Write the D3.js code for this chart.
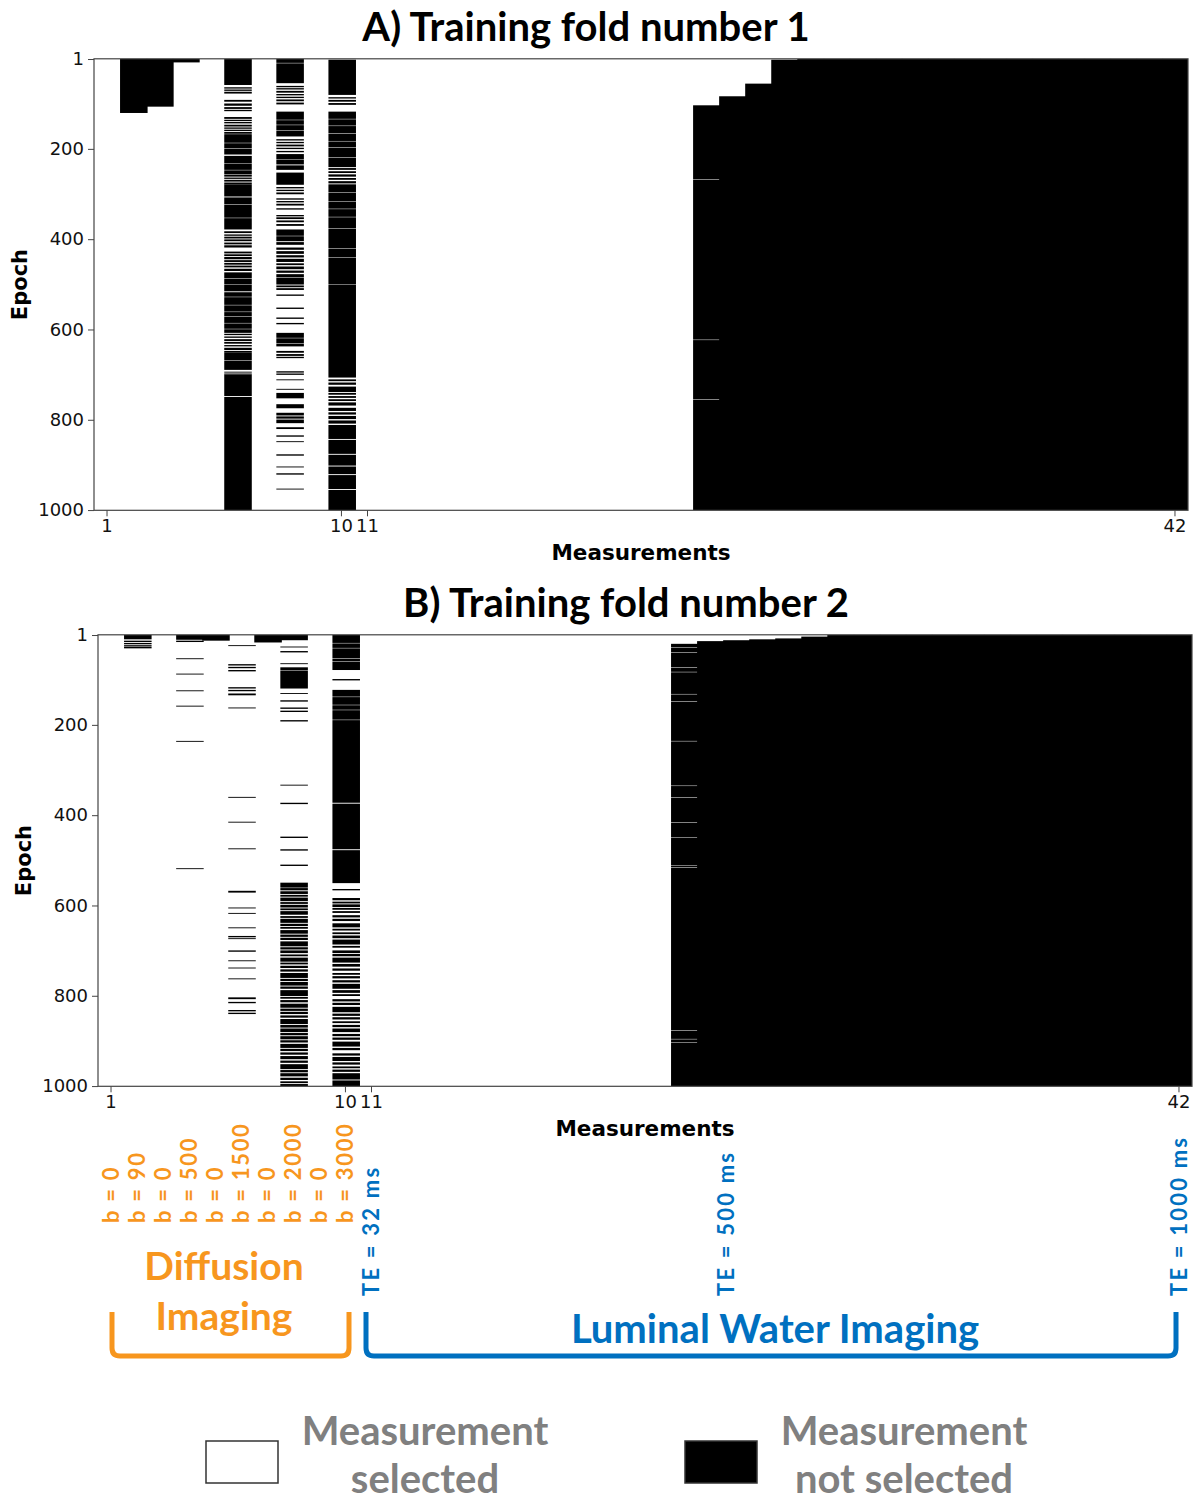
<!DOCTYPE html>
<html>
<head>
<meta charset="utf-8">
<script src="https://cdn.jsdelivr.net/npm/d3@7"></script>
<style>
body { margin: 0; background: #fff; }
</style>
</head>
<body>
<script>
// epochs at which a measurement is NOT selected (black), per measurement column 1..42
// each entry: list of [firstEpoch, lastEpoch] blocks
const foldA = [
  [],
  [[1, 120]],
  [[1, 106]],
  [[1, 8]],
  [],
  [[1,58],[64,66],[69,71],[74,77],[92,95],[100,104],[108,111],[114,116],[130,133],[136,138],[141,143],[147,150],[153,155],[158,160],[163,166],[168,186],[188,198],[200,212],[216,232],[234,246],[248,256],[258,261],[264,266],[269,272],[275,278],[279,305],[308,322],[324,352],[354,378],[383,386],[390,392],[395,398],[401,404],[408,411],[414,418],[428,431],[434,437],[440,444],[447,450],[453,456],[459,462],[466,470],[474,486],[488,500],[502,515],[518,527],[529,545],[547,560],[562,570],[572,585],[587,598],[600,607],[610,612],[616,618],[622,625],[628,631],[635,637],[641,645],[648,651],[652,668],[670,689],[694,695],[698,699],[700,747],[750,1000]],
  [],
  [[1,9],[11,54],[61,63],[66,68],[72,75],[79,81],[85,87],[91,94],[98,101],[118,135],[137,146],[148,158],[160,172],[179,181],[185,187],[191,194],[198,200],[205,207],[212,222],[224,234],[237,246],[253,279],[285,287],[291,293],[297,300],[310,312],[316,318],[322,325],[332,334],[347,349],[352,355],[359,362],[367,370],[379,392],[394,404],[407,412],[419,423],[427,432],[436,440],[444,450],[454,457],[461,466],[470,474],[478,484],[486,500],[503,506],[509,512],[523,525],[552,554],[574,576],[586,588],[608,618],[620,630],[632,637],[648,651],[655,658],[661,663],[693,695],[698,700],[711,712],[732,733],[741,752],[766,774],[785,790],[793,797],[800,807],[817,820],[835,837],[848,849],[877,879],[904,905],[919,921],[953,954]],
  [],
  [[3,80],[86,88],[92,95],[99,102],[118,133],[135,148],[150,165],[167,182],[184,196],[198,218],[220,240],[243,246],[250,253],[257,261],[265,268],[272,276],[279,296],[298,316],[318,332],[334,350],[352,375],[377,420],[422,440],[442,500],[502,706],[711,714],[718,722],[727,738],[741,744],[748,751],[755,758],[762,768],[774,780],[784,788],[792,798],[802,808],[812,842],[845,875],[878,901],[904,920],[923,953],[956,1000]],
  [], [], [], [], [], [], [], [], [], [], [], [], [],
  [[104,267],[269,622],[624,754],[756,1000]],
  [[84, 1000]],
  [[56, 1000]],
  [[3, 1000]],
  [[1,1000]], [[1,1000]], [[1,1000]], [[1,1000]], [[1,1000]],
  [[1,1000]], [[1,1000]], [[1,1000]], [[1,1000]], [[1,1000]],
  [[1,1000]], [[1,1000]], [[1,1000]], [[1,1000]], [[1,1000]]
];

const foldB = [
  [],
  [[1,10],[14,16],[19,21],[24,26],[28,30]],
  [],
  [[1,11],[14,16],[53,54],[87,88],[124,125],[158,159],[236,237],[518,519]],
  [[1, 13]],
  [[24,25],[66,68],[72,74],[79,81],[117,119],[123,125],[131,134],[162,163],[360,361],[415,416],[474,475],[568,571],[605,606],[617,618],[649,650],[668,670],[673,674],[700,702],[722,723],[738,739],[762,763],[804,807],[814,816],[832,834],[838,840]],
  [[1, 17]],
  [[1,12],[27,28],[37,39],[64,65],[73,78],[80,119],[130,131],[146,148],[162,164],[169,171],[190,192],[333,334],[373,375],[448,450],[476,478],[510,512],[550,560],[562,566],[569,574],[577,580],[583,590],[593,596],[599,604],[607,610],[613,620],[624,627],[630,638],[641,645],[648,651],[655,662],[665,669],[672,676],[680,690],[693,697],[700,705],[709,712],[716,724],[727,730],[734,738],[742,746],[750,760],[763,767],[770,777],[780,784],[788,800],[803,806],[810,814],[818,826],[829,833],[836,840],[844,848],[852,862],[865,870],[873,880],[883,887],[890,896],[899,903],[907,915],[918,922],[926,930],[934,940],[944,948],[952,962],[965,969],[972,978],[982,986],[990,993],[996,1000]],
  [],
  [[1,18],[20,29],[31,52],[54,59],[61,78],[99,101],[123,137],[139,155],[157,166],[168,188],[190,372],[375,475],[478,550],[564,566],[584,588],[592,595],[598,603],[606,609],[613,616],[622,626],[630,634],[640,648],[652,655],[660,663],[667,672],[676,686],[690,693],[700,705],[708,712],[716,726],[730,735],[740,744],[750,753],[757,761],[766,770],[774,784],[788,793],[797,800],[808,812],[816,820],[825,836],[840,844],[848,852],[857,860],[865,869],[873,880],[885,889],[893,897],[902,912],[916,920],[928,932],[936,944],[948,952],[957,960],[964,968],[972,985],[988,1000]],
  [], [], [], [], [], [], [], [], [], [], [], [],
  [[21,28],[30,39],[41,72],[74,82],[84,131],[133,147],[149,235],[237,334],[336,360],[362,415],[417,448],[450,511],[513,515],[517,876],[878,895],[897,902],[904,1000]],
  [[15, 1000]],
  [[13, 1000]],
  [[11, 1000]],
  [[9, 1000]],
  [[5, 1000]],
  [[1,1000]], [[1,1000]], [[1,1000]], [[1,1000]], [[1,1000]],
  [[1,1000]], [[1,1000]], [[1,1000]], [[1,1000]], [[1,1000]],
  [[1,1000]], [[1,1000]], [[1,1000]], [[1,1000]]
];

const measurements = d3.range(1, 43);
const measurementTicks = [1, 10, 11, 42];
const epochTicks = [1, 200, 400, 600, 800, 1000];
const panelTitles = ["A) Training fold number 1", "B) Training fold number 2"];

const bValues = ["b = 0", "b = 90", "b = 0", "b = 500", "b = 0", "b = 1500", "b = 0", "b = 2000", "b = 0", "b = 3000"];
const teLabels = ["TE = 32 ms", "TE = 500 ms", "TE = 1000 ms"];
const teAt = [11, 24.6, 42];
const legendLabels = [["Measurement", "selected"], ["Measurement", "not selected"]];
const legendFills = ["#ffffff", "#000000"];

const orange = "#F7961E";
const blue = "#0070C0";

const svg = d3.select("body").append("svg")
    .attr("width", 1198)
    .attr("height", 1502);

function drawPanel(fold, title, left, top, titleX, labelX, id) {
    let width = 1094, height = 451.5;
    let x = d3.scaleBand().domain(measurements).range([left, left + width]);
    let y = d3.scaleLinear().domain([0.5, 1000.5]).range([top, top + height]);
    let g = svg.append("g");

    svg.append("clipPath").attr("id", id)
        .append("rect").attr("x", left).attr("y", top).attr("width", width).attr("height", height);

    let cells = g.append("g").attr("clip-path", "url(#" + id + ")");
    fold.forEach((blocks, i) => {
        cells.selectAll(null).data(blocks).enter().append("rect")
            .attr("x", x(measurements[i]))
            .attr("width", x.bandwidth() + 1.5)
            .attr("y", d => y(d[0] - 0.5))
            .attr("height", d => y(d[1] + 0.5) - y(d[0] - 0.5))
            .attr("fill", "#000");
    });

    g.append("rect")
        .attr("x", left).attr("y", top)
        .attr("width", width).attr("height", height)
        .attr("fill", "none").attr("stroke", "#444").attr("stroke-width", 1.2);

    let yAxis = g.append("g")
        .attr("transform", "translate(" + left + ",0)")
        .call(d3.axisLeft(y).tickValues(epochTicks).tickFormat(d3.format("d")).tickSize(6).tickPadding(4));
    let xAxis = g.append("g")
        .attr("transform", "translate(0," + (top + height) + ")")
        .call(d3.axisBottom(x).tickValues(measurementTicks).tickSize(6).tickPadding(3));
    [yAxis, xAxis].forEach(a => {
        a.select(".domain").remove();
        a.selectAll("line").attr("stroke", "#444");
        a.selectAll("text").attr("font-family", "DejaVu Sans").attr("font-size", 18).attr("fill", "#111");
    });

    g.append("text")
        .attr("x", titleX).attr("y", top - 18)
        .attr("text-anchor", "middle")
        .attr("font-family", "Lato").attr("font-weight", "bold").attr("font-size", 40)
        .text(title);

    g.append("text")
        .attr("transform", "translate(" + labelX + "," + (top + height / 2) + ") rotate(-90)")
        .attr("dy", "0.35em")
        .attr("text-anchor", "middle")
        .attr("font-family", "DejaVu Sans").attr("font-weight", "bold").attr("font-size", 21)
        .text("Epoch");

    g.append("text")
        .attr("x", left + width / 2).attr("y", top + height + 50)
        .attr("text-anchor", "middle")
        .attr("font-family", "DejaVu Sans").attr("font-weight", "bold").attr("font-size", 21.5)
        .text("Measurements");

    return x;
}

drawPanel(foldA, panelTitles[0], 94, 58.8, 586, 20, "clipA");
let xB = drawPanel(foldB, panelTitles[1], 98, 634.8, 626, 24, "clipB");
let xMid = d3.scaleLinear().domain([0.5, 42.5]).range([98, 1192]);

// diffusion b-value labels
svg.selectAll(".blab").data(bValues).enter().append("text")
    .attr("transform", (d, i) => "translate(" + (xB(i + 1) + xB.bandwidth() / 2) + ",1223) rotate(-90)")
    .attr("dy", "0.36em")
    .attr("font-family", "Lato").attr("font-weight", "bold").attr("font-size", 22)
    .attr("letter-spacing", 1.7)
    .attr("fill", orange)
    .text(d => d);

// echo time labels
svg.selectAll(".telab").data(teLabels).enter().append("text")
    .attr("transform", (d, i) => "translate(" + xMid(teAt[i]) + ",1296) rotate(-90)")
    .attr("dy", "0.36em")
    .attr("font-family", "Lato").attr("font-weight", "bold").attr("font-size", 22)
    .attr("letter-spacing", 2.2)
    .attr("fill", blue)
    .text(d => d);

// brackets
function bracket(x1, x2, top, bottom, color) {
    let r = 8;
    svg.append("path")
        .attr("d", "M" + x1 + "," + top + " L" + x1 + "," + (bottom - r) +
            " Q" + x1 + "," + bottom + " " + (x1 + r) + "," + bottom +
            " L" + (x2 - r) + "," + bottom +
            " Q" + x2 + "," + bottom + " " + x2 + "," + (bottom - r) +
            " L" + x2 + "," + top)
        .attr("fill", "none").attr("stroke", color).attr("stroke-width", 5);
}
bracket(112, 349, 1312, 1356, orange);
bracket(366, 1176, 1312, 1356, blue);

svg.append("text").attr("x", 224).attr("y", 1280).attr("text-anchor", "middle")
    .attr("font-family", "Lato").attr("font-weight", "bold").attr("font-size", 39)
    .attr("fill", orange).text("Diffusion");
svg.append("text").attr("x", 224).attr("y", 1330).attr("text-anchor", "middle")
    .attr("font-family", "Lato").attr("font-weight", "bold").attr("font-size", 39)
    .attr("fill", orange).text("Imaging");
svg.append("text").attr("x", 775).attr("y", 1343).attr("text-anchor", "middle")
    .attr("font-family", "Lato").attr("font-weight", "bold").attr("font-size", 40)
    .attr("fill", blue).text("Luminal Water Imaging");

// legend
const legendX = [206, 685];
legendLabels.forEach((lines, i) => {
    svg.append("rect")
        .attr("x", legendX[i]).attr("y", 1441)
        .attr("width", 72).attr("height", 42)
        .attr("fill", legendFills[i]).attr("stroke", "#333").attr("stroke-width", 1.5);
    lines.forEach((t, j) => {
        svg.append("text")
            .attr("x", legendX[i] + 219).attr("y", 1445 + j * 48)
            .attr("text-anchor", "middle")
            .attr("font-family", "Lato").attr("font-weight", "bold").attr("font-size", 40)
            .attr("fill", "#808080")
            .text(t);
    });
});
</script>
</body>
</html>
